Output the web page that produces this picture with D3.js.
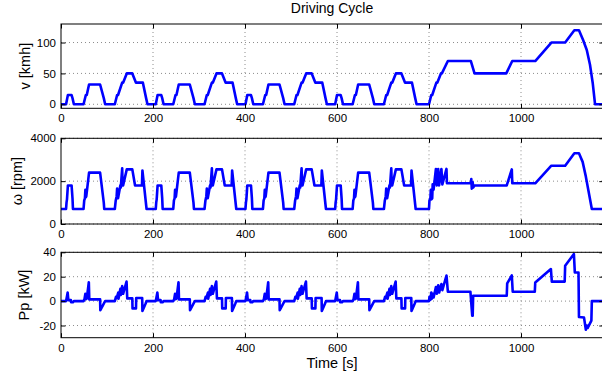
<!DOCTYPE html>
<html lang="en">
<head>
  <meta charset="UTF-8">
  <title>Driving Cycle</title>
  <script src="https://d3js.org/d3.v7.min.js"></script>
  <style>
    body { margin: 0; background: #fff; }
    text { font-family: "Liberation Sans", Arial, sans-serif; fill: #000; }
    .grid line { stroke: #8c8c8c; stroke-width: 1; stroke-dasharray: 1,3; }
    .series { fill: none; stroke: #0000ff; stroke-width: 2.6; stroke-linejoin: round; }
    .frame { fill: none; stroke: #000; stroke-width: 1; }
  </style>
</head>
<body>
<script>
// ---- data: one ECE-15 urban cycle (0..195 s), repeated 4 times, then EUDC ----
const eceLength = 195;
const eceRepeats = 4;

// [time s, speed km/h]
const eceSpeed = [[0,0],[11,0],[15,15],[23,15],[25,10],[28,0],[49,0],[54,15],[56,15],[61,32],[85,32],
  [93,10],[96,0],[117,0],[122,15],[124,15],[133,35],[135,35],[143,50],[155,50],[163,35],[176,35],
  [178,35],[185,10],[188,0],[195,0]];
// [time s, engine speed rpm]
const eceRpm = [[0,700],[11,700],[12,1000],[13,1150],[15,1800],[23,1800],[25,1200],[26,700],[49,700],
  [50.5,1100],[52,1200],[53,1600],[54,1250],[55,1300],[61,2400],[85,2400],[93,1000],[94,700],
  [117,700],[119,1100],[121,1300],[122,1650],[123,1200],[124,1200],[129,1800],[130,1700],[133,2600],
  [134,1800],[135,1800],[143,2550],[155,2550],[161,1800],[176,1800],[177,2500],[186,700],[195,700]];
// [time s, power kW]
const ecePower = [[0,0],[11,0],[12,2],[14.5,7],[16,0.8],[21.5,0.8],[22,-1],[26,-1],[28,0],[49,0],
  [51,1.5],[53,6],[54,1.5],[56,2],[60.5,15.5],[61.5,1.4],[85,1.4],[85.5,-7.5],[93,-2],[96,0],
  [117,0],[119.5,3.5],[121,2.5],[124.5,7],[125,2],[129,10],[130,5],[133,12.3],[134,6],[135,6],
  [142.5,16],[144,2.2],[155,2.2],[155.5,-6],[163,-6],[163.5,2.5],[176.5,2.5],[177,-8],[184,-2],
  [186,0],[195,0]];

const eudcSpeed = [[780,0],[800,0],[805,15],[807,15],[816,35],[818,35],[826,50],[828,50],[841,70],
  [891,70],[899,50],[968,50],[981,70],[1031,70],[1066,100],[1096,100],[1116,120],[1126,120],
  [1135,104],[1143,88],[1150,64],[1156,34],[1161,0],[1180,0]];
const eudcRpm = [[780,700],[800,700],[801,1100],[803,1200],[804,1600],[805,1150],[807,1200],[808,1850],
  [810,1600],[815,2570],[817,1800],[820,2570],[822,1800],[827,2570],[829,1850],[838,2570],[839,1900],
  [891,1900],[892,2100],[893,1650],[895,1950],[896,1700],[899,1800],[969,1800],[980,2550],[981,1900],
  [1031,1900],[1066,2720],[1096,2720],[1116,3300],[1126,3300],[1134,2900],[1141,2210],[1154,700],
  [1180,700]];
const eudcPower = [[780,0],[800,0],[801,3.5],[803,1],[805,7],[806,2],[808,6],[810,3],[815,11.5],
  [817,6],[820,13],[822,7],[827,14],[829,9],[838,21],[841,7.7],[890,7.7],[894,-12],[895,-12],
  [896,4.4],[969,4.4],[970,14.5],[980,21],[982,7.7],[1030,7.7],[1031,15.3],[1065,26.3],[1067,16],
  [1095,16],[1096,29],[1115,38.6],[1117,23.5],[1125,23.5],[1126,-13],[1137,-13.5],[1141,-23.5],
  [1143,-20],[1145,-22],[1153,-16],[1154,0],[1180,0]];

const xTicks = [0, 200, 400, 600, 800, 1000];
const speedTicks = [0, 50, 100];
const rpmTicks = [0, 2000, 4000];
const powerTicks = [-20, 0, 20, 40];

// repeat the urban part, then append the extra-urban part
function fullCycle(ece, eudc) {
  const out = [];
  for (let k = 0; k < eceRepeats; k++) {
    ece.forEach(p => out.push([p[0] + k * eceLength, p[1]]));
  }
  return out.concat(eudc);
}

// ---- layout ----
const W = 602, H = 378;
const svg = d3.select("body").append("svg")
  .attr("width", W)
  .attr("height", H);

const x = d3.scaleLinear().domain([0, 1180]).range([61, 603.8]);

const panels = [
  { label: "v [kmh]", data: fullCycle(eceSpeed, eudcSpeed), domain: [-6.5, 130], range: [108.3, 24], ticks: speedTicks, labelX: 25 },
  { label: "\u03c9 [rpm]", data: fullCycle(eceRpm, eudcRpm), domain: [0, 4000], range: [224, 138.3], ticks: rpmTicks, labelX: 17 },
  { label: "Pp [kW]", data: fullCycle(ecePower, eudcPower), domain: [-30, 40], range: [337.7, 252.3], ticks: powerTicks, labelX: 24 }
];

const tickLen = 4.5;

panels.forEach(p => {
  const y = d3.scaleLinear().domain(p.domain).range(p.range);
  const g = svg.append("g");
  const top = p.range[1], bottom = p.range[0];
  const left = x.range()[0], right = x.range()[1];

  // grid
  const grid = g.append("g").attr("class", "grid");
  grid.selectAll(".gx").data(xTicks.filter(t => t > 0)).enter().append("line")
    .attr("x1", d => x(d)).attr("x2", d => x(d))
    .attr("y1", top).attr("y2", bottom);
  grid.selectAll(".gy").data(p.ticks).enter().append("line")
    .attr("x1", left).attr("x2", right)
    .attr("y1", d => y(d)).attr("y2", d => y(d));

  // data line
  g.append("path")
    .datum(p.data)
    .attr("class", "series")
    .attr("d", d3.line().x(d => x(d[0])).y(d => y(d[1])));

  // frame
  g.append("rect").attr("class", "frame")
    .attr("x", left).attr("y", top)
    .attr("width", right - left).attr("height", bottom - top);

  // inward ticks on bottom/top and left/right
  const xAxB = d3.axisBottom(x).tickValues(xTicks).tickSizeInner(-tickLen).tickSizeOuter(0).tickPadding(6).tickFormat(d => String(d));
  const xAxT = d3.axisTop(x).tickValues(xTicks).tickSizeInner(-tickLen).tickSizeOuter(0).tickFormat("");
  const yAxL = d3.axisLeft(y).tickValues(p.ticks).tickSizeInner(-tickLen).tickSizeOuter(0).tickPadding(5).tickFormat(d => String(d));
  const yAxR = d3.axisRight(y).tickValues(p.ticks).tickSizeInner(-tickLen).tickSizeOuter(0).tickFormat("");

  [
    g.append("g").attr("transform", `translate(0,${bottom})`).call(xAxB),
    g.append("g").attr("transform", `translate(0,${top})`).call(xAxT),
    g.append("g").attr("transform", `translate(${left},0)`).call(yAxL),
    g.append("g").attr("transform", `translate(${right},0)`).call(yAxR)
  ].forEach(a => {
    a.select(".domain").remove();
    a.selectAll("line").attr("stroke", "#000");
    a.selectAll("text").attr("font-size", 11.5).attr("fill", "#000")
      .style("font-family", '"Liberation Sans", Arial, sans-serif');
  });

  // y label
  g.append("text")
    .attr("transform", `translate(${p.labelX},${(top + bottom) / 2}) rotate(-90)`)
    .attr("text-anchor", "middle")
    .attr("dy", "0.35em")
    .attr("font-size", 14.5)
    .text(p.label);
});

// title and x label
svg.append("text")
  .attr("x", 332).attr("y", 13)
  .attr("text-anchor", "middle")
  .attr("font-size", 14)
  .text("Driving Cycle");

svg.append("text")
  .attr("x", 332).attr("y", 367.5)
  .attr("text-anchor", "middle")
  .attr("font-size", 14.5)
  .text("Time [s]");
</script>
</body>
</html>
